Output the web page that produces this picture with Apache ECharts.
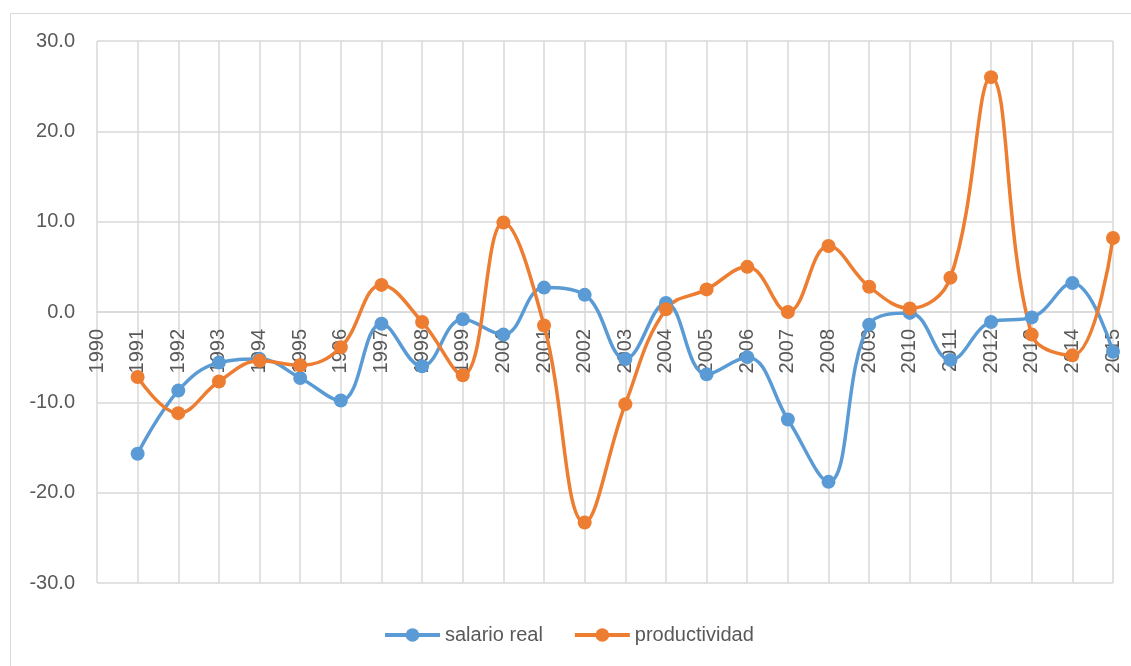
<!DOCTYPE html>
<html>
<head>
<meta charset="utf-8">
<script src="https://cdn.jsdelivr.net/npm/echarts@6/dist/echarts.min.js"></script>
<style>
  html, body { margin: 0; padding: 0; background: #fff; }
  #chart { width: 1131px; height: 666px; }
</style>
</head>
<body>
<div id="chart"></div>
<script>
// years on the category axis (1990 has no data)
const years = ['1990', '1991', '1992', '1993', '1994', '1995', '1996', '1997', '1998', '1999', '2000',
  '2001', '2002', '2003', '2004', '2005', '2006', '2007', '2008', '2009', '2010',
  '2011', '2012', '2013', '2014', '2015']

// salario real
const salarioReal = [null, -15.7, -8.7, -5.6, -5.2, -7.3, -9.8, -1.3, -6.0, -0.8, -2.5,
  2.7, 1.9, -5.2, 1.0, -6.9, -5.0, -11.9, -18.8, -1.4, -0.1,
  -5.3, -1.1, -0.6, 3.2, -4.4]

// productividad
const productividad = [null, -7.2, -11.2, -7.7, -5.4, -5.9, -3.9, 3.0, -1.1, -7.0, 9.9,
  -1.5, -23.3, -10.2, 0.3, 2.5, 5.0, 0.0, 7.3, 2.8, 0.4,
  3.8, 26.0, -2.5, -4.8, 8.2]

const textColor = '#595959'
const gridColor = '#d9d9d9'
const font = '"Liberation Sans", Arial, sans-serif'

const gridTop = 41
const gridBottom = 83
const plotHeight = 666 - gridTop - gridBottom

const myChart = echarts.init(document.getElementById('chart'))

const option = {
  animation: false,
  textStyle: { fontFamily: font },
  graphic: [
    {
      type: 'rect',
      left: 8,
      top: 11,
      shape: { width: 1200, height: 700 },
      style: { fill: 'none', stroke: gridColor, lineWidth: 1 },
      silent: true,
      z: -1
    }
  ],
  grid: {
    left: 97,
    right: 18,
    top: gridTop,
    bottom: gridBottom
  },
  legend: {
    left: 378,
    top: 620,
    itemWidth: 55,
    itemHeight: 17,
    itemGap: 30,
    lineStyle: { width: 4 },
    textStyle: { color: textColor, fontSize: 20, fontFamily: font },
    data: ['salario real', 'productividad']
  },
  xAxis: {
    type: 'category',
    boundaryGap: false,
    data: years,
    // value axis runs -30..30, so the zero line sits at mid height
    offset: -plotHeight / 2,
    axisLine: { onZero: false, lineStyle: { color: gridColor, width: 1.5 } },
    axisTick: { show: false },
    axisLabel: {
      rotate: 90,
      margin: 17,
      interval: 0,
      color: textColor,
      fontSize: 20,
      fontFamily: font
    },
    splitLine: { show: true, lineStyle: { color: gridColor, width: 1.5 } }
  },
  yAxis: {
    type: 'value',
    min: -30,
    max: 30,
    interval: 10,
    axisLine: { show: false },
    axisTick: { show: false },
    axisLabel: {
      color: textColor,
      fontSize: 20,
      fontFamily: font,
      margin: 22,
      formatter: (v) => v.toFixed(1)
    },
    splitLine: { lineStyle: { color: gridColor, width: 1.5 } }
  },
  series: [
    {
      name: 'salario real',
      type: 'line',
      data: salarioReal,
      smooth: 0.4,
      symbol: 'circle',
      symbolSize: 14,
      lineStyle: { color: '#5b9bd5', width: 3.5 },
      itemStyle: { color: '#5b9bd5' }
    },
    {
      name: 'productividad',
      type: 'line',
      data: productividad,
      smooth: 0.4,
      symbol: 'circle',
      symbolSize: 14,
      lineStyle: { color: '#ed7d31', width: 3.5 },
      itemStyle: { color: '#ed7d31' }
    }
  ]
}

myChart.setOption(option)
</script>
</body>
</html>
